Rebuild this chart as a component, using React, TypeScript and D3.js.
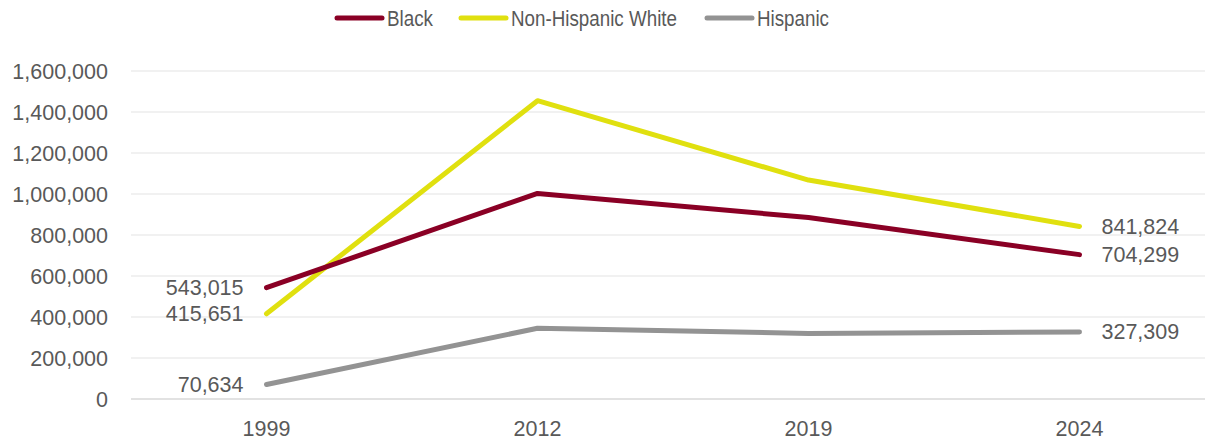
import React, { useEffect, useRef } from "react";
import * as d3 from "d3";

const years = ["1999", "2012", "2019", "2024"];
const blackValues = [543015, 1003000, 885000, 704299];
const whiteValues = [415651, 1455000, 1068000, 841824];
const hispanicValues = [70634, 345000, 320000, 327309];
const yTicks = [0, 200000, 400000, 600000, 800000, 1000000, 1200000, 1400000, 1600000];
const seriesNames = ["Black", "Non-Hispanic White", "Hispanic"];
const seriesColors = ["#8A0025", "#E0E00F", "#939393"];

const W = 1205;
const H = 440;
const FONT = "'Liberation Sans', Arial, sans-serif";
const TEXT = "#595959";
const FS = 21.5;

export default function App() {
  const ref = useRef<SVGSVGElement>(null);
  useEffect(() => {
    const svg = d3.select(ref.current);
    svg.selectAll("*").remove();
    const x = d3.scalePoint<string>().domain(years).range([131, 1215]).padding(0.5);
    const y = d3.scaleLinear().domain([0, 1600000]).range([399, 71]);
    const fmt = d3.format(",");

    svg.append("g").selectAll("line").data(yTicks.filter((t) => t > 0)).join("line")
      .attr("x1", 131).attr("x2", 1215)
      .attr("y1", (d) => y(d)).attr("y2", (d) => y(d))
      .attr("stroke", "#EDEDED").attr("stroke-width", 1.5);
    svg.append("line").attr("x1", 131).attr("x2", 1215)
      .attr("y1", y(0)).attr("y2", y(0)).attr("stroke", "#D9D9D9").attr("stroke-width", 1.5);

    svg.append("g").selectAll("text").data(yTicks).join("text")
      .attr("x", 108).attr("y", (d) => y(d)).attr("dy", "0.35em")
      .attr("text-anchor", "end").attr("font-family", FONT).attr("font-size", FS)
      .attr("fill", TEXT).text((d) => fmt(d));

    svg.append("g").selectAll("text").data(years).join("text")
      .attr("x", (d) => x(d)!).attr("y", 436)
      .attr("text-anchor", "middle").attr("font-family", FONT).attr("font-size", FS)
      .attr("fill", TEXT).text((d) => d);

    const all = [blackValues, whiteValues, hispanicValues];
    const line = d3.line<number>().x((_, i) => x(years[i])!).y((d) => y(d));
    [2, 1, 0].forEach((si) => {
      svg.append("path").attr("d", line(all[si])!).attr("fill", "none")
        .attr("stroke", seriesColors[si]).attr("stroke-width", 5)
        .attr("stroke-linecap", "round").attr("stroke-linejoin", "round");
    });

    all.forEach((vals) => {
      svg.append("text").attr("x", x(years[0])! - 23).attr("y", y(vals[0])).attr("dy", "0.35em")
        .attr("text-anchor", "end").attr("font-family", FONT).attr("font-size", FS)
        .attr("fill", TEXT).text(fmt(vals[0]));
      const last = vals[vals.length - 1];
      svg.append("text").attr("x", x(years[3])! + 22).attr("y", y(last)).attr("dy", "0.35em")
        .attr("text-anchor", "start").attr("font-family", FONT).attr("font-size", FS)
        .attr("fill", TEXT).text(fmt(last));
    });

    const legendX = [335, 459, 705];
    const legendW = [46, 166, 72];
    seriesNames.forEach((name, i) => {
      const g = svg.append("g");
      g.append("line").attr("x1", legendX[i] + 2).attr("x2", legendX[i] + 47)
        .attr("y1", 18).attr("y2", 18).attr("stroke", seriesColors[i])
        .attr("stroke-width", 5).attr("stroke-linecap", "round");
      g.append("text").attr("x", legendX[i] + 52).attr("y", 18).attr("dy", "0.36em")
        .attr("font-family", FONT).attr("font-size", 22).attr("fill", TEXT)
        .attr("textLength", legendW[i]).attr("lengthAdjust", "spacingAndGlyphs")
        .text(name);
    });
  }, []);
  return (
    <svg ref={ref} width={W} height={H} style={{ position: "absolute", left: 0, top: 0, background: "#fff" }} />
  );
}
